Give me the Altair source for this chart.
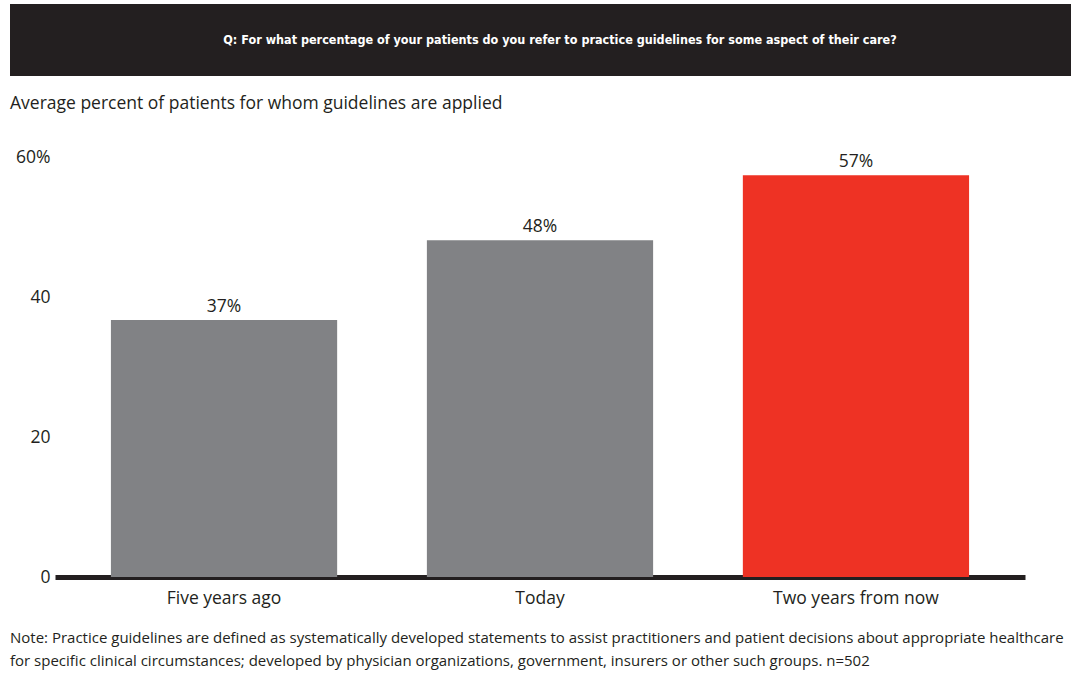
import altair as alt
import pandas as pd

categories = ["Five years ago", "Today", "Two years from now"]
values = [36.7, 48.1, 57.4]
value_labels = ["37%", "48%", "57%"]
bar_colors = ["#818285", "#818285", "#EE3224"]

title_text = "Q: For what percentage of your patients do you refer to practice guidelines for some aspect of their care?"
subtitle_text = "Average percent of patients for whom guidelines are applied"
note_lines = [
    "Note: Practice guidelines are defined as systematically developed statements to assist practitioners and patient decisions about appropriate healthcare",
    "for specific clinical circumstances; developed by physician organizations, government, insurers or other such groups. n=502",
]

FONT = "Open Sans"
DARK = "#231f20"

df = pd.DataFrame({"cat": categories, "val": values, "lab": value_labels, "col": bar_colors})

x_enc = alt.X("cat:N", sort=categories, title=None,
              scale=alt.Scale(paddingInner=0.284, paddingOuter=0.177),
              axis=alt.Axis(labelAngle=0, labelFont=FONT, labelFontSize=17.5, labelColor=DARK,
                            labelPadding=12, ticks=False, domainColor=DARK, domainWidth=5,
                            labelLimit=400))
y_enc = alt.Y("val:Q", title=None,
              scale=alt.Scale(domain=[0, 60], nice=False, zero=True),
              axis=alt.Axis(values=[0, 20, 40, 60], labelExpr="datum.value == 60 ? '60%' : datum.label",
                            labelFont=FONT, labelFontSize=17.5, labelColor=DARK, labelPadding=5,
                            ticks=False, domain=False, grid=False))

bars = alt.Chart(df).mark_bar().encode(
    x=x_enc, y=y_enc, color=alt.Color("col:N", scale=None)
)

labels = alt.Chart(df).mark_text(font=FONT, fontSize=17.5, color=DARK, baseline="bottom", dy=-4).encode(
    x=alt.X("cat:N", sort=categories), y="val:Q", text="lab:N"
)

hdr = pd.DataFrame({"t": [title_text]})
header_rect = alt.Chart(hdr).mark_rect(color=DARK).encode(
    x=alt.value(-45), x2=alt.value(1016), y=alt.value(-153), y2=alt.value(-81)
)
header_text = alt.Chart(hdr).mark_text(font="DejaVu Sans Condensed", fontWeight="bold", fontSize=12.5,
                                        color="white", align="center", baseline="middle").encode(
    x=alt.value(505), y=alt.value(-117), text="t:N"
)

sub = alt.Chart(pd.DataFrame({"t": [subtitle_text]})).mark_text(
    font=FONT, fontSize=17.5, color=DARK, align="left", baseline="middle").encode(
    x=alt.value(-45), y=alt.value(-53), text="t:N"
)

note1 = alt.Chart(pd.DataFrame({"t": [note_lines[0]]})).mark_text(
    font=FONT, fontSize=15, color=DARK, align="left", baseline="middle").encode(
    x=alt.value(-45), y=alt.value(481), text="t:N"
)
note2 = alt.Chart(pd.DataFrame({"t": [note_lines[1]]})).mark_text(
    font=FONT, fontSize=15, color=DARK, align="left", baseline="middle").encode(
    x=alt.value(-45), y=alt.value(504), text="t:N"
)

chart = alt.layer(header_rect, header_text, sub, bars, labels, note1, note2).properties(
    width=970, height=420,
    autosize=alt.AutoSizeParams(type="none"),
    padding={"left": 55, "top": 157, "right": 46, "bottom": 100},
).configure(background="white").configure_view(stroke=None, strokeWidth=0)

chart.save("out.html", embed_options={"renderer": "svg", "actions": False})
